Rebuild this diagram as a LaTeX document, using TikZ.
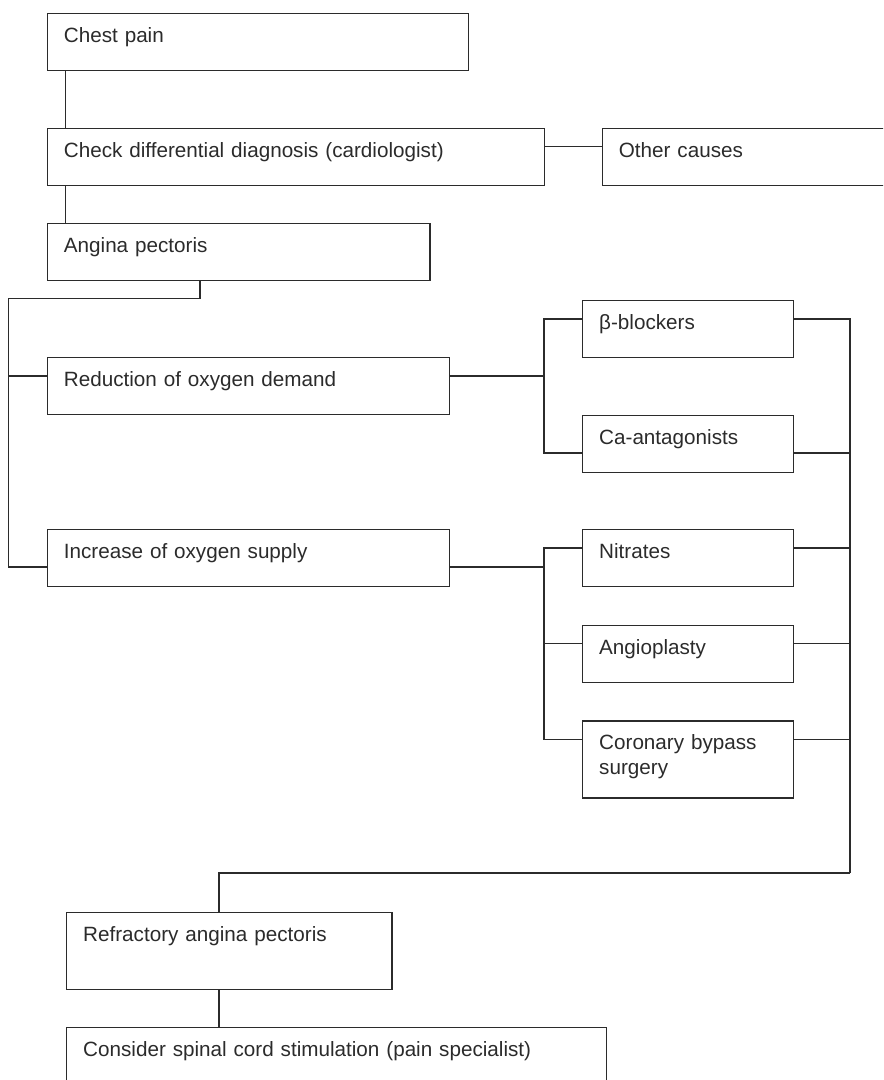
\documentclass[tikz,border=0pt]{standalone}
\usepackage{fontspec}
\setmainfont{Liberation Sans}
\usepackage{tikz}
\usetikzlibrary{positioning}

\definecolor{inkgray}{HTML}{2B2B2B}
\tikzset{
    box/.style={draw, anchor=north west, align=left,
        inner xsep=12.45pt, inner ysep=0pt, text height=21.75pt,
        font=\fontsize{15.5pt}{18.3pt}\selectfont},
    link/.style={line width=0.9pt}
}

\begin{document}
\begin{tikzpicture}[x=0.75pt, y=-0.75pt, line width=0.9pt, draw=inkgray, text=inkgray]
                        \clip (0,0) rectangle (883,1080);
                        \node[box, text width=290.85pt, text depth=21.45pt] (chest) at (46.7, 12.7) {Chest pain};
                        \node[box, text width=348.1pt, text depth=21pt] (check) at (46.7, 127.7) {Check differential diagnosis (cardiologist)};
                        \node[box, text width=200.1pt, text depth=21pt] (other) at (601.7, 127.7) {Other causes};
                        \node[box, text width=262.05pt, text depth=21pt] (angina) at (46.7, 223) {Angina pectoris};
                        \node[box, text width=276.6pt, text depth=21pt] (reduction) at (46.7, 357) {Reduction of oxygen demand};
                        \node[box, text width=276.6pt, text depth=21pt] (increase) at (46.7, 529) {Increase of oxygen supply};
                        \node[box, text width=133.35pt, text depth=21pt] (beta) at (582, 300) {β-blockers};
                        \node[box, text width=133.35pt, text depth=21pt] (ca) at (582, 415) {Ca-antagonists};
                        \node[box, text width=133.35pt, text depth=21pt] (nitrates) at (582, 529) {Nitrates};
                        \node[box, text width=133.35pt, text depth=21.2pt] (angio) at (582, 624.7) {Angioplasty};
                        \node[box, text width=133.35pt, text depth=36pt] (bypass) at (582, 720.3) {Coronary bypass\\surgery};
                        \node[box, text width=219.15pt, text depth=36pt] (refractory) at (66, 911.7) {Refractory angina pectoris};
                        \node[box, text width=380.1pt, text depth=38.25pt] (scs) at (66, 1026.7) {Consider spinal cord stimulation (pain specialist)};
                        \coordinate (lbus) at (8.3, 298.5);
                        \coordinate (mbusa) at (544, 376);
                        \coordinate (mbusb) at (544, 567);
                        \coordinate (rbus) at (850, 873);
                        \draw
                        ([xshift=14.25pt]chest.south west) -- ([xshift=14.25pt]check.north west)
                        ([yshift=-14.25pt]check.north east) -- ([yshift=-14.25pt]other.north west)
                        ([xshift=14.25pt]check.south west) -- ([xshift=14.25pt]angina.north west)
                        ([xshift=115pt]angina.south west) |- (lbus)
                        (lbus) |- ([yshift=-14.25pt]reduction.north west)
                        (lbus) |- ([yshift=-28.5pt]increase.north west)
                        ([yshift=-14.25pt]reduction.north east) -- (mbusa)
                        (mbusa) |- ([yshift=-14.25pt]beta.north west)
                        (mbusa) |- ([yshift=-28.5pt]ca.north west)
                        ([yshift=-28.5pt]increase.north east) -- (mbusb)
                        (mbusb) |- ([yshift=-14.25pt]nitrates.north west)
                        (mbusb) |- ([yshift=-14.25pt]angio.north west)
                        (mbusb) |- ([yshift=-14.25pt]bypass.north west);
                        \foreach \n/\s in {beta/14.25, ca/28.5, nitrates/14.25, angio/14.25, bypass/14.25}
                            \draw ([yshift=-\s pt]\n.north east) -| (rbus);
                        \draw
                        (rbus) -| ([xshift=114.75pt]refractory.north west)
                        ([xshift=114.75pt]refractory.south west) -- ([xshift=114.75pt]scs.north west);
                    \end{tikzpicture}
\end{document}
